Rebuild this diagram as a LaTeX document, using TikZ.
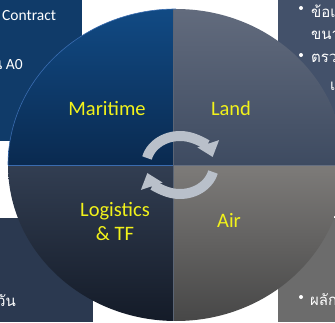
\documentclass[tikz,border=0pt]{standalone}
\usepackage{fontspec}
\setmainfont{Carlito}
\newfontfamily\thaifont[Script=Thai]{Loma}
\usetikzlibrary{arrows.meta}
\definecolor{tlbox}{HTML}{103B69}
\definecolor{blbox}{HTML}{2B3950}
\definecolor{trbox}{HTML}{43516A}
\definecolor{brbox}{HTML}{6C6C6C}
\definecolor{tlq1}{HTML}{114A84}
\definecolor{tlq2}{HTML}{0A2A50}
\definecolor{trq1}{HTML}{626B7D}
\definecolor{trq2}{HTML}{3E4B61}
\definecolor{blq1}{HTML}{323E52}
\definecolor{blq2}{HTML}{141B28}
\definecolor{brq1}{HTML}{7D7B79}
\definecolor{brq2}{HTML}{474747}
\definecolor{cyccol}{HTML}{B9C0CA}
\definecolor{labyellow}{HTML}{F2F21A}
\definecolor{edgeblue}{HTML}{3A6CB0}
\tikzset{
  boxtext/.style={text=white, font=\fontsize{15.5}{17}\selectfont, inner sep=0pt},
  thaitext/.style={text=white, font=\thaifont\fontsize{15}{17}\selectfont, inner sep=0pt},
  bulletdot/.style={circle, fill=white, inner sep=0pt, minimum size=4pt},
  quadlabel/.style={text=labyellow, font=\fontsize{20.5}{24}\selectfont, inner sep=0pt, align=center},
  cycarrow/.style={draw=cyccol, line width=10pt, -{Triangle[width=22pt,length=14pt]}}
}
\begin{document}
\begin{tikzpicture}[x=1pt,y=1pt]
\useasboundingbox (0,0) rectangle (335,322);
\clip (0,0) rectangle (335,322);
% background boxes
\fill[tlbox] (0,181) rectangle (82,322);
\fill[blbox] (0,0) rectangle (93,104);
\fill[trbox] (278,117) rectangle (335,322);
\fill[brbox] (278,0) rectangle (335,104);
% box texts
\node[boxtext, anchor=west] (ctr) at (2,306) {Contract};
\node[boxtext, anchor=east] (a0) at (23,257) {{\thaifont น} A0};
\node[thaitext, anchor=east] (wan) at (16,21) {วัน};
\node[bulletdot] (b1) at (301,314) {};
\node[thaitext, anchor=west] (t1) at (311,311) {ข้อเ};
\node[thaitext, anchor=west] (t2) at (311,287) {ขนา};
\node[bulletdot] (b2) at (301,267) {};
\node[thaitext, anchor=west] (t3) at (311,264) {ตรว};
\node[thaitext, anchor=west] (t4) at (330,236) {เ};
\node[bulletdot] (b3) at (301,25) {};
\node[thaitext, anchor=west] (t5) at (310,22) {ผลัก};
% circle quadrants
\begin{scope}
\clip (176,157) ellipse [x radius=168pt, y radius=156pt];
\shade[top color=tlq1, bottom color=tlq2] (0,157) rectangle (173,313);
\shade[top color=trq1, bottom color=trq2] (173,157) rectangle (344,313);
\shade[top color=blq1, bottom color=blq2] (0,1) rectangle (173,157);
\shade[top color=brq1, bottom color=brq2] (173,1) rectangle (344,157);
\draw[edgeblue, line width=0.6pt] (8,157) -- (173,157);
\draw[trq2!80!white, line width=0.4pt] (173,157) -- (344,157);
\draw[blq1!80!white, line width=0.4pt] (173,1) -- (173,313);
\end{scope}
\draw[edgeblue, line width=0.6pt] (8,157) arc[start angle=180, end angle=90, x radius=168pt, y radius=156pt];
% cycle arrows
\coordinate (ac) at (180,157);
\draw[cycarrow] (ac) ++(166:34 and 29) arc[start angle=166, end angle=16, x radius=34pt, y radius=29pt];
\draw[cycarrow] (ac) ++(-14:34 and 29) arc[start angle=-14, end angle=-164, x radius=34pt, y radius=29pt];
% quadrant labels
\node[quadlabel] (mar) at (107,214) {Maritime};
\node[quadlabel] (land) at (231,214) {Land};
\node[quadlabel] (log) at (115,101) {Logistics\\\& TF};
\node[quadlabel] (air) at (229,102) {Air};
\end{tikzpicture}
\end{document}
